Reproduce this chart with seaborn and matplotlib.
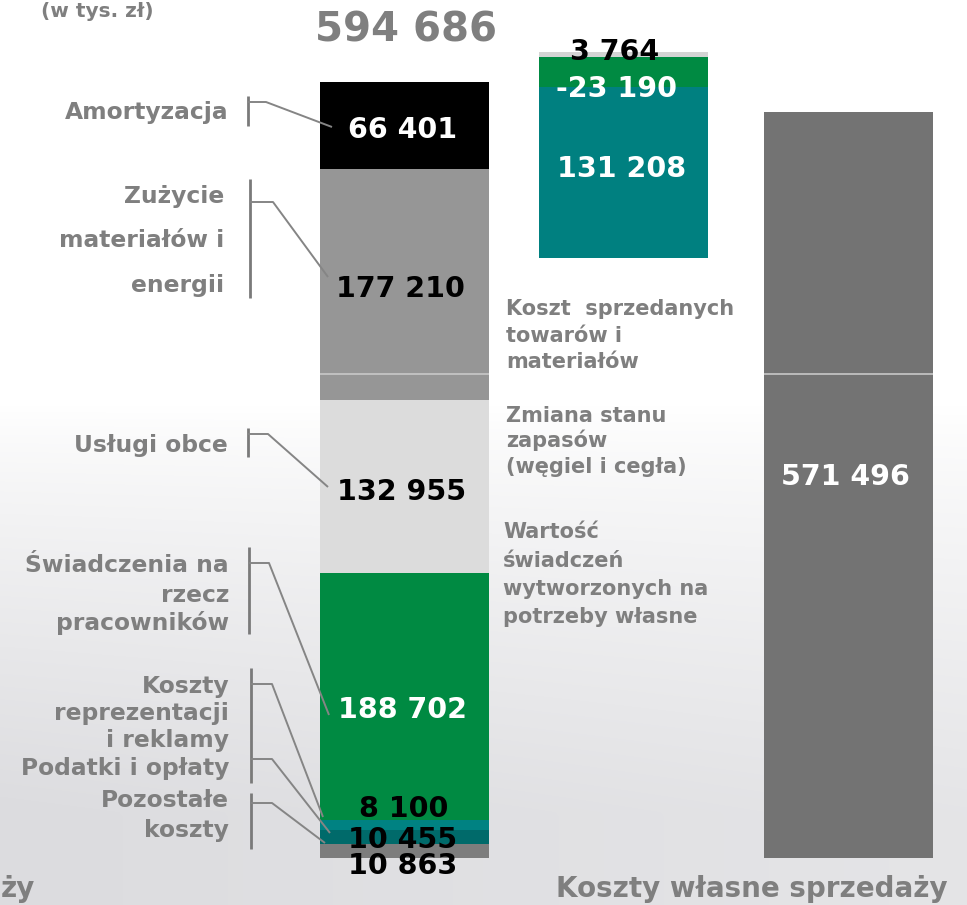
import numpy as np
import matplotlib
matplotlib.use("Agg")
import matplotlib.pyplot as plt
from matplotlib.lines import Line2D
from matplotlib.colors import LinearSegmentedColormap
import seaborn as sns

# ---------------- data ----------------
cost_categories = ["Pozostałe koszty", "Podatki i opłaty", "Koszty reprezentacji i reklamy",
                   "Świadczenia na rzecz pracowników", "Usługi obce",
                   "Zużycie materiałów i energii", "Amortyzacja"]
cost_values = [10863, 10455, 8100, 188702, 132955, 177210, 66401]
cost_total = 594686

bridge_categories = ["Koszt sprzedanych towarów i materiałów",
                     "Zmiana stanu zapasów (węgiel i cegła)",
                     "Wartość świadczeń wytworzonych na potrzeby własne"]
bridge_values = [131208, -23190, 3764]

sales_cost_label = "Koszty własne sprzedaży"
sales_cost_value = 571496
unit_label = "(w tys. zł)"

# ---------------- style ----------------
cost_colors = ["#7d7d7d", "#006a6a", "#008282", "#008a42", "#dcdcdc", "#969696", "#000000"]
cost_label_colors = ["black", "black", "black", "white", "black", "black", "white"]
bridge_colors = ["#008080", "#008a42", "#d4d4d4"]
bridge_label_colors = ["white", "white", "black"]
sales_color = "#737373"
txt_grey = "#7f7f7f"
line_grey = "#858585"

sns.set_theme(style="white")
plt.rcParams["font.family"] = ["DejaVu Sans"]

W, H = 967, 905
fig = plt.figure(figsize=(W / 100, H / 100), dpi=100)
fig.patch.set_facecolor("white")
ax = fig.add_axes([0, 0, 1, 1])
ax.set_axis_off()

BASE_PX = 858.0
K = cost_total / 776.0            # value units per pixel
ylo, yhi = -(H - BASE_PX) * K, BASE_PX * K

def v_of(px):                      # pixel row -> data value
    return (BASE_PX - px) * K

# background gradient (slide watermark feel)
yy, xx = np.mgrid[0:1:200j, 0:1:200j]
g = np.clip((yy - 0.45) / 0.45, 0, 1) ** 0.8 * (0.75 + 0.25 * (1 - xx))
cmap = LinearSegmentedColormap.from_list("bg", ["#ffffff", "#dcdcdf"])
ax.imshow(g, extent=[0, W, ylo, yhi], aspect="auto", cmap=cmap, vmin=0, vmax=1,
          zorder=0, interpolation="bilinear")

# ---------------- bars ----------------
LEFT_X, MID_X, RIGHT_X, BAR_W = 404.5, 623.0, 848.5, 169

def draw_bar(xc, height, bottom, color):
    sns.barplot(x=[xc], y=[height], bottom=bottom, native_scale=True, orient="x",
                width=BAR_W, color=color, saturation=1, errorbar=None,
                linewidth=0, ax=ax, zorder=2)

bottom = 0.0
for v, c in zip(cost_values, cost_colors):
    draw_bar(LEFT_X, v, bottom, c)
    bottom += v

mid_top = v_of(52)
mid_base = mid_top - sum(abs(v) for v in bridge_values)
b = mid_base
for v, c in zip(bridge_values, bridge_colors):
    draw_bar(MID_X, abs(v), b, c)
    b += abs(v)

draw_bar(RIGHT_X, sales_cost_value, 0, sales_color)

# thin slide line across the bars
for xc in (LEFT_X, RIGHT_X):
    ax.hlines(v_of(374), xc - BAR_W / 2, xc + BAR_W / 2, color="#c8c8c8", lw=1.2, zorder=3)

ax.set_xlim(0, W)
ax.set_ylim(ylo, yhi)
ax.set_xlabel("")
ax.set_ylabel("")

# ---------------- text helpers ----------------
def T(x, y, s, size, color=txt_grey, ha="center", va="baseline", **kw):
    fig.text(x / W, 1 - y / H, s, fontsize=size, color=color, ha=ha, va=va,
             fontweight="bold", **kw)

def L(pts, lw=1.4, color=line_grey):
    xs = [p[0] / W for p in pts]
    ys = [1 - p[1] / H for p in pts]
    fig.add_artist(Line2D(xs, ys, transform=fig.transFigure, lw=lw, color=color,
                          solid_capstyle="butt", zorder=5))

def fmt(v):
    return f"{v:,}".replace(",", " ")

# unit + total
T(97, 17, unit_label, 14.5)
T(406, 42, fmt(cost_total), 29)

# bar value labels (left stack, bottom -> top)
cost_label_pos = [(403, 874), (403, 848), (404, 817), (402, 718), (402, 500), (400, 297), (402.5, 137.5)]
for v, (x, y), c in zip(cost_values, cost_label_pos, cost_label_colors):
    T(x, y, fmt(v), 20.5, color=c)

bridge_label_pos = [(622, 177), (616, 97), (615, 60)]
for v, (x, y), c in zip(bridge_values, bridge_label_pos, bridge_label_colors):
    T(x, y, fmt(v), 20.5, color=c)

T(845, 485, fmt(sales_cost_value), 20.5, color="white")

# left category labels
left_lines = [
    ("Amortyzacja", 229, 119),
    ("Zużycie", 224, 203), ("materiałów i", 224, 247), ("energii", 224, 292),
    ("Usługi obce", 228, 452),
    ("Świadczenia na", 229, 572), ("rzecz", 229, 602), ("pracowników", 229, 630),
    ("Koszty", 229, 693), ("reprezentacji", 229, 720), ("i reklamy", 229, 747),
    ("Podatki i opłaty", 229, 775),
    ("Pozostałe", 229, 807), ("koszty", 229, 837),
]
for s, x, y in left_lines:
    T(x, y, s, 16.8, ha="right")

# right-side annotations
right_lines = [
    ("Koszt  sprzedanych", 506, 315), ("towarów i", 506, 342), ("materiałów", 506, 368),
    ("Zmiana stanu", 506, 422), ("zapasów", 506, 447), ("(węgiel i cegła)", 506, 473),
    ("Wartość", 503, 538), ("świadczeń", 503, 567), ("wytworzonych na", 503, 595),
    ("potrzeby własne", 503, 623),
]
for s, x, y in right_lines:
    T(x, y, s, 15, ha="left")

# bottom captions
T(752, 897, sales_cost_label, 20)
T(1, 897, "ży", 20, ha="left")

# leader lines
brackets = [
    ((248, 96), (248, 126)), ((250, 179), (250, 298)), ((248, 428), (248, 457)),
    ((249, 547), (249, 634)), ((251, 668), (251, 783)), ((251, 793), (251, 849)),
]
for p0, p1 in brackets:
    L([p0, p1], lw=2.0, color="#7a7a7a")

leaders = [
    [(248, 102), (266, 102), (332, 127)],
    [(250, 202), (273, 202), (328, 277)],
    [(248, 434), (268, 434), (328, 487)],
    [(249, 563), (269, 563), (329, 715)],
    [(251, 684), (272, 684), (323, 817)],
    [(251, 759), (272, 759), (330, 833)],
    [(251, 803), (272, 803), (325, 843)],
]
for pts in leaders:
    L(pts, lw=1.4)

fig.savefig("out.png", dpi=100, facecolor=fig.get_facecolor())
